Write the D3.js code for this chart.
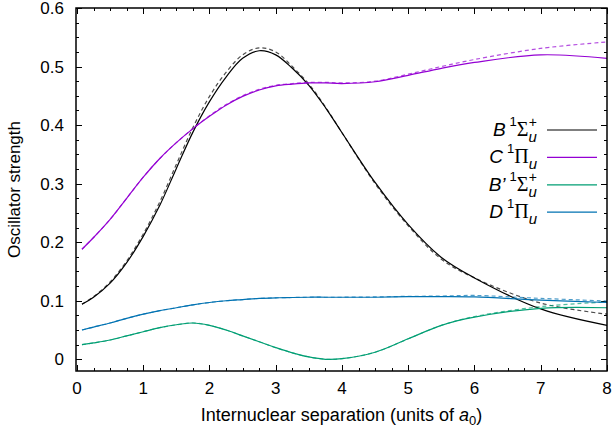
<!DOCTYPE html>
<html>
<head>
<meta charset="utf-8">
<script src="https://cdn.jsdelivr.net/npm/d3@7"></script>
<style>
  body { margin: 0; background: #fff; }
  text { font-family: "Liberation Sans", Arial, sans-serif; }
</style>
</head>
<body>
<div id="chart"></div>
<script>
// shared x grid (units of a0)
var rVals = [0.075, 0.25, 0.5, 0.75, 1, 1.25, 1.5, 1.75, 2, 2.25, 2.5, 2.75, 3, 3.25, 3.5, 3.75, 4, 4.5, 5, 5.5, 6, 7, 8];

// B 1Sigma_u+
var bSolid  = [0.094, 0.106, 0.130, 0.165, 0.210, 0.263, 0.326, 0.388, 0.440, 0.482, 0.514, 0.527, 0.520, 0.497, 0.468, 0.430, 0.387, 0.302, 0.230, 0.174, 0.139, 0.086, 0.058];
var bDashed = [0.094, 0.107, 0.132, 0.168, 0.214, 0.269, 0.333, 0.396, 0.449, 0.490, 0.520, 0.532, 0.525, 0.500, 0.470, 0.431, 0.387, 0.300, 0.228, 0.171, 0.139, 0.096, 0.077];
// C 1Pi_u
var cSolid  = [0.188, 0.208, 0.239, 0.275, 0.311, 0.343, 0.370, 0.394, 0.415, 0.434, 0.449, 0.460, 0.467, 0.470, 0.472, 0.472, 0.471, 0.474, 0.485, 0.497, 0.507, 0.520, 0.514];
var cDashed = [0.188, 0.208, 0.239, 0.275, 0.311, 0.343, 0.370, 0.394, 0.416, 0.435, 0.450, 0.461, 0.468, 0.471, 0.473, 0.473, 0.472, 0.475, 0.487, 0.500, 0.512, 0.531, 0.542];
// B' 1Sigma_u+
var bpSolid  = [0.025, 0.028, 0.033, 0.040, 0.047, 0.054, 0.059, 0.062, 0.058, 0.050, 0.040, 0.030, 0.020, 0.011, 0.004, 0.000, 0.001, 0.012, 0.035, 0.058, 0.072, 0.087, 0.088];
var bpDashed = [0.025, 0.028, 0.033, 0.040, 0.047, 0.054, 0.059, 0.062, 0.058, 0.050, 0.040, 0.030, 0.020, 0.011, 0.004, 0.000, 0.001, 0.012, 0.035, 0.058, 0.073, 0.090, 0.098];
// D 1Pi_u
var dSolid  = [0.050, 0.055, 0.062, 0.070, 0.077, 0.083, 0.088, 0.093, 0.097, 0.100, 0.102, 0.104, 0.105, 0.1055, 0.106, 0.106, 0.106, 0.106, 0.107, 0.107, 0.1065, 0.101, 0.097];
var dDashed = [0.050, 0.055, 0.062, 0.070, 0.077, 0.083, 0.088, 0.093, 0.097, 0.100, 0.102, 0.104, 0.105, 0.1055, 0.106, 0.106, 0.106, 0.1065, 0.1075, 0.108, 0.109, 0.104, 0.0995];

var xTicks = [0, 1, 2, 3, 4, 5, 6, 7, 8];
var yTicks = [0, 0.1, 0.2, 0.3, 0.4, 0.5, 0.6];

var width = 613, height = 434;
var plotL = 76, plotR = 607, plotT = 8, plotB = 371;

var svg = d3.select('#chart')
  .append('svg')
    .attr('width', width)
    .attr('height', height);

var x = d3.scaleLinear().domain([-0.015, 8]).range([plotL, plotR]);
var y = d3.scaleLinear().domain([-0.02, 0.6]).range([plotB, plotT]);

// ticks, all four sides, pointing inward
var minorX = d3.range(0, 8.001, 0.25);
var minorY = d3.range(0, 0.6001, 0.025);
var tk = svg.append('g').attr('stroke', '#000').attr('stroke-width', 1);
minorX.forEach(function(v) {
  var len = Math.abs(v - Math.round(v)) < 1e-6 ? 6 : 3;
  var px = Math.round(x(v)) + 0.5;
  tk.append('line').attr('x1', px).attr('x2', px).attr('y1', plotB).attr('y2', plotB - len);
  tk.append('line').attr('x1', px).attr('x2', px).attr('y1', plotT).attr('y2', plotT + len);
});
minorY.forEach(function(v) {
  var len = Math.abs(v * 10 - Math.round(v * 10)) < 1e-6 ? 6 : 3;
  var py = Math.round(y(v)) + 0.5;
  tk.append('line').attr('y1', py).attr('y2', py).attr('x1', plotL).attr('x2', plotL + len);
  tk.append('line').attr('y1', py).attr('y2', py).attr('x1', plotR).attr('x2', plotR - len);
});

// tick labels
svg.append('g').selectAll('text')
  .data(xTicks).enter().append('text')
    .attr('x', d => x(d))
    .attr('y', 394)
    .attr('text-anchor', 'middle')
    .attr('font-size', '17px')
    .text(d => d);
svg.append('g').selectAll('text')
  .data(yTicks).enter().append('text')
    .attr('x', 64)
    .attr('y', d => y(d) + 6)
    .attr('text-anchor', 'end')
    .attr('font-size', '17px')
    .text(d => d === 0 ? '0' : d.toFixed(1));

// curves
var series = [
  { solid: bSolid, dashed: bDashed, color: '#000000' },
  { solid: cSolid, dashed: cDashed, color: '#9400d3' },
  { solid: bpSolid, dashed: bpDashed, color: '#009e73' },
  { solid: dSolid, dashed: dDashed, color: '#0072b2' }
];
var line = d3.line()
  .x(d => x(d[0]))
  .y(d => y(d[1]))
  .curve(d3.curveCatmullRom.alpha(0.5));

series.forEach(function(s) {
  svg.append('path')
    .attr('d', line(rVals.map((r, i) => [r, s.dashed[i]])))
    .attr('fill', 'none')
    .attr('stroke', s.color)
    .attr('stroke-opacity', 0.7)
    .attr('stroke-width', 1.2)
    .attr('stroke-dasharray', '4,3');
  svg.append('path')
    .attr('d', line(rVals.map((r, i) => [r, s.solid[i]])))
    .attr('fill', 'none')
    .attr('stroke', s.color)
    .attr('stroke-width', 1.2);
});

// frame
svg.append('rect')
  .attr('x', plotL).attr('y', plotT)
  .attr('width', plotR - plotL).attr('height', plotB - plotT)
  .attr('fill', 'none')
  .attr('stroke', '#000')
  .attr('stroke-width', 1.5);

// legend
var legend = [
  { main: 'B', greek: 'Σ', plus: true, color: '#000000' },
  { main: 'C', greek: 'Π', plus: false, color: '#9400d3' },
  { main: 'B\u2019', greek: 'Σ', plus: true, color: '#009e73' },
  { main: 'D', greek: 'Π', plus: false, color: '#0072b2' }
];
legend.forEach(function(l, i) {
  var ly = 130 + i * 27.4;
  var t = svg.append('text')
    .attr('x', 537)
    .attr('y', ly + 6)
    .attr('text-anchor', 'end')
    .attr('font-size', '19px');
  t.append('tspan').attr('font-style', 'italic').text(l.main);
  t.append('tspan').attr('dx', 4).attr('dy', -10).attr('font-size', '13px').text('1');
  t.append('tspan').attr('dy', 10).attr('font-family', 'Liberation Serif, serif').attr('font-size', '20px').text(l.greek);
  t.append('tspan').attr('dy', 6).attr('font-style', 'italic').attr('font-size', '15px').text('u');
  if (l.plus) {
    t.append('tspan').attr('dx', -8).attr('dy', -15).attr('font-size', '14px').text('+');
  }
  svg.append('line')
    .attr('x1', 547).attr('x2', 597)
    .attr('y1', ly).attr('y2', ly)
    .attr('stroke', l.color)
    .attr('stroke-width', 1.2);
});

// axis titles
var xt = svg.append('text')
  .attr('x', (plotL + plotR) / 2)
  .attr('y', 421)
  .attr('text-anchor', 'middle')
  .attr('font-size', '18px');
xt.append('tspan').text('Internuclear separation (units of ');
xt.append('tspan').attr('font-style', 'italic').text('a');
xt.append('tspan').attr('dy', 4).attr('font-size', '13px').text('0');
xt.append('tspan').attr('dy', -4).text(')');

svg.append('text')
  .attr('transform', 'translate(20,' + (plotT + plotB) / 2 + ') rotate(-90)')
  .attr('text-anchor', 'middle')
  .attr('font-size', '17px')
  .text('Oscillator strength');
</script>
</body>
</html>
